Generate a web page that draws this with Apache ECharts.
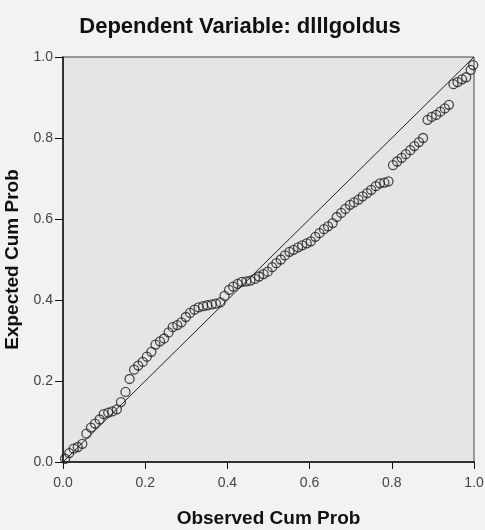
<!DOCTYPE html>
<html lang="en">
<head>
    <meta charset="UTF-8">
    <title>P-P Plot</title>
    <script src="https://cdn.jsdelivr.net/npm/echarts@6/dist/echarts.min.js"></script>
    <style>
        html, body { margin: 0; padding: 0; background: #f2f2f2; }
        #main { width: 485px; height: 530px; }
    </style>
</head>
<body>
<div id="main"></div>
<script>
    // observed cum prob (x) / expected cum prob (y)
    var observed = [
        0.005, 0.015, 0.026, 0.036, 0.047, 0.057, 0.068, 0.078, 0.089, 0.099,
        0.110, 0.120, 0.131, 0.141, 0.152, 0.162, 0.173, 0.183, 0.194, 0.204,
        0.215, 0.225, 0.236, 0.246, 0.257, 0.267, 0.278, 0.288, 0.299, 0.309,
        0.320, 0.330, 0.341, 0.351, 0.362, 0.372, 0.383, 0.393, 0.404, 0.414,
        0.425, 0.435, 0.446, 0.456, 0.467, 0.477, 0.488, 0.498, 0.509, 0.519,
        0.530, 0.540, 0.551, 0.561, 0.572, 0.582, 0.593, 0.603, 0.614, 0.624,
        0.635, 0.645, 0.656, 0.666, 0.677, 0.687, 0.698, 0.708, 0.719, 0.729,
        0.740, 0.750, 0.761, 0.771, 0.782, 0.792, 0.803, 0.813, 0.824, 0.834,
        0.845, 0.855, 0.866, 0.876, 0.887, 0.897, 0.908, 0.918, 0.929, 0.939,
        0.950, 0.960, 0.971, 0.981, 0.992, 0.998
    ];
    var expected = [
        0.008, 0.022, 0.033, 0.037, 0.045, 0.070, 0.085, 0.095, 0.105, 0.118,
        0.122, 0.125, 0.130, 0.148, 0.173, 0.205, 0.228, 0.238, 0.247, 0.260,
        0.272, 0.290, 0.298, 0.305, 0.320, 0.333, 0.338, 0.345, 0.358, 0.368,
        0.376, 0.382, 0.385, 0.387, 0.389, 0.391, 0.394, 0.410, 0.425, 0.433,
        0.440, 0.445, 0.446, 0.448, 0.452, 0.458, 0.464, 0.470, 0.481, 0.491,
        0.500, 0.510, 0.519, 0.524, 0.530, 0.535, 0.540, 0.545, 0.556, 0.565,
        0.575, 0.582, 0.590, 0.605, 0.615, 0.625, 0.635, 0.641, 0.648, 0.656,
        0.664, 0.672, 0.681, 0.688, 0.690, 0.693, 0.733, 0.742, 0.751, 0.760,
        0.770, 0.780, 0.790, 0.800, 0.845, 0.852, 0.857, 0.865, 0.873, 0.882,
        0.933, 0.938, 0.945, 0.950, 0.968, 0.980
    ];
    var refLine = [[0, 0], [1, 1]];

    var points = observed.map(function (v, i) {
        return [v, expected[i]];
    });

    var axisText = { color: '#444', fontSize: 14, fontFamily: 'Liberation Sans' };
    var nameText = { fontSize: 19, fontWeight: 'bold', color: '#111', fontFamily: 'Liberation Sans' };

    var myChart = echarts.init(document.getElementById('main'));
    myChart.setOption({
        backgroundColor: '#f2f2f2',
        animation: false,
        title: {
            text: 'Dependent Variable: dlllgoldus',
            left: 235,
            textAlign: 'center',
            top: 11,
            textStyle: { fontSize: 22, fontWeight: 'bold', color: '#111', fontFamily: 'Liberation Sans' }
        },
        grid: {
            left: 63, right: 11, top: 57, bottom: 68,
            containLabel: false,
            outerBoundsMode: 'none',
            show: true,
            backgroundColor: '#e5e5e5',
            borderColor: '#444',
            borderWidth: 1
        },
        xAxis: {
            type: 'value',
            min: 0, max: 1, interval: 0.2,
            name: 'Observed Cum Prob',
            nameLocation: 'middle',
            nameGap: 47,
            nameTextStyle: nameText,
            axisLine: { lineStyle: { color: '#111', width: 1.5 } },
            axisTick: { length: 7, lineStyle: { color: '#111' } },
            axisLabel: Object.assign({ margin: 14, formatter: function (v) { return v.toFixed(1); } }, axisText),
            splitLine: { show: false }
        },
        yAxis: {
            type: 'value',
            min: 0, max: 1, interval: 0.2,
            name: 'Expected Cum Prob',
            nameLocation: 'middle',
            nameGap: 37,
            nameTextStyle: nameText,
            axisLine: { show: true, lineStyle: { color: '#111', width: 1.5 } },
            axisTick: { show: true, length: 8, lineStyle: { color: '#111' } },
            axisLabel: Object.assign({ margin: 10, formatter: function (v) { return v.toFixed(1); } }, axisText),
            splitLine: { show: false }
        },
        series: [
            {
                type: 'line',
                data: refLine,
                symbol: 'none',
                lineStyle: { color: '#222', width: 1 },
                silent: true
            },
            {
                type: 'scatter',
                data: points,
                symbol: 'circle',
                symbolSize: 9,
                itemStyle: { color: 'rgba(0,0,0,0)', borderColor: '#222', borderWidth: 1.3 }
            }
        ]
    });
</script>
</body>
</html>
